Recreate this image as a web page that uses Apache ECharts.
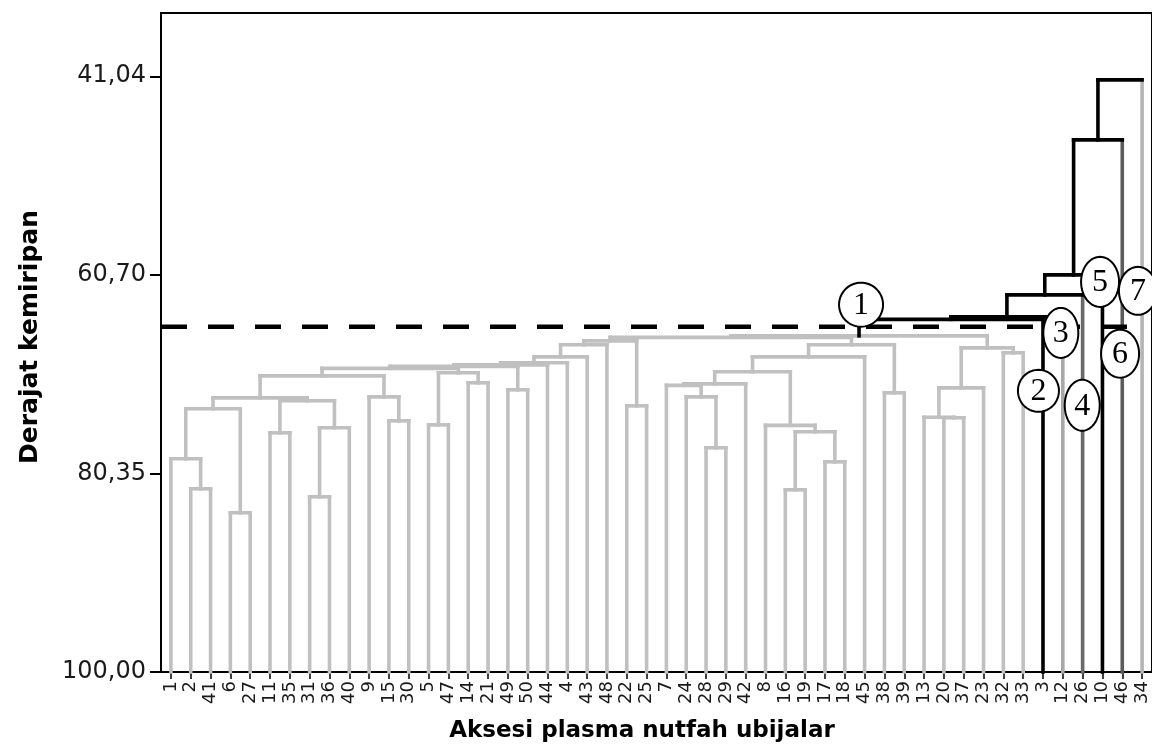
<!DOCTYPE html>
<html>
<head>
<meta charset="utf-8">
<script src="https://cdn.jsdelivr.net/npm/echarts@6/dist/echarts.min.js"></script>
<style>
  html, body { margin: 0; padding: 0; background: #ffffff; }
  #chart { width: 1152px; height: 744px; }
</style>
</head>
<body>
<div id="chart"></div>
<script>
// ---------------- DATA ----------------
// leaf order along the x axis (accession numbers)
const leaves = [1,2,41,6,27,11,35,31,36,40,9,15,30,5,47,14,21,49,50,44,4,43,48,22,25,7,24,28,29,42,8,16,19,17,18,45,38,39,13,20,37,23,32,33,3,12,26,10,46,34];

// merges: [childA, childB, similarity]; numbers = leaf accession, '#k' = merge k
const merges = [
  [6, 27, 84.24],      // 0
  [2, 41, 81.87],      // 1
  [1, '#1', 78.90],    // 2
  ['#2', '#0', 73.95], // 3
  [11, 35, 76.33],     // 4
  [31, 36, 82.66],     // 5
  ['#5', 40, 75.83],   // 6
  ['#4', '#6', 73.16], // 7
  ['#3', '#7', 72.87], // 8
  [15, 30, 75.14],     // 9
  [9, '#9', 72.77],    // 10
  ['#8', '#10', 70.69],// 11
  [5, 47, 75.54],      // 12
  [14, 21, 71.38],     // 13
  ['#12', '#13', 70.39],// 14
  ['#11', '#14', 69.95],// 15
  [49, 50, 72.07],     // 16
  ['#15', '#16', 69.75],// 17
  ['#17', 44, 69.60],  // 18
  ['#18', 4, 69.40],   // 19
  ['#19', 43, 68.81],  // 20
  ['#20', 48, 67.62],  // 21
  [22, 25, 73.66],     // 22
  ['#21', '#22', 67.23],// 23
  [28, 29, 77.81],     // 24
  [24, '#24', 72.77],  // 25
  [7, '#25', 71.63],   // 26
  ['#26', 42, 71.48],  // 27
  [16, 19, 81.97],     // 28
  [17, 18, 79.20],     // 29
  ['#28', '#29', 76.23],// 30
  [8, '#30', 75.59],   // 31
  ['#27', '#31', 70.29],// 32
  ['#32', 45, 68.81],  // 33
  [38, 39, 72.37],     // 34
  ['#33', '#34', 67.62],// 35
  ['#23', '#35', 66.88],// 36
  [20, 37, 74.84],     // 37
  [13, '#37', 74.79],  // 38
  ['#38', 23, 71.88],  // 39
  [32, 33, 68.41],     // 40
  ['#39', '#40', 67.92],// 41
  ['#36', '#41', 66.73],// 42
  ['#42', 3, 65.10],   // 43
  ['#43', 12, 64.85],  // 44
  ['#44', 26, 62.68],  // 45
  ['#45', 10, 60.70],  // 46
  ['#46', 46, 47.34],  // 47
  ['#47', 34, 41.40]   // 48
];

const yTicks = [41.04, 60.70, 80.35, 100.00];
const cutLevel = 65.84;
// cluster markers: [label, position along leaf axis (leaf index units), similarity]
const clusterMarks = [
  ['1', 34.82, 63.65],
  ['2', 43.77, 72.17],
  ['3', 44.90, 66.44],
  ['4', 45.98, 73.60],
  ['5', 46.88, 61.39],
  ['6', 47.89, 68.50],
  ['7', 48.79, 62.28]
];

const yTitle = 'Derajat kemiripan';
const xTitle = 'Aksesi plasma nutfah ubijalar';

// ---------------- STYLE ----------------
const GRAY = '#c0c0c0';
const leafColors = {3: '#000000', 12: '#a8a8a8', 26: '#6a6a6a', 10: '#000000', 46: '#5c5c5c', 34: '#b4b4b4'};
const markSizes = [[44,44],[41,42],[35,50],[35,51],[38,50],[38,48],[38,48]];
const FONT = 'DejaVu Sans, Verdana, sans-serif';

// ---------------- BUILD ----------------
const leafPos = {};
leaves.forEach((id, i) => { leafPos[id] = i; });
const nodeX = [];
const segs = [];
function ref(c) {
  if (typeof c === 'number') return { x: leafPos[c], h: 100, leaf: c };
  const k = +c.slice(1);
  return { x: nodeX[k], h: merges[k][2], leaf: null };
}
merges.forEach((m, k) => {
  const a = ref(m[0]), b = ref(m[1]), h = m[2];
  nodeX[k] = (a.x + b.x) / 2;
  const above = h < cutLevel;
  const bracketColor = above ? '#000000' : GRAY;
  function legColor(c) {
    if (c.leaf !== null) return above ? (leafColors[c.leaf] || GRAY) : GRAY;
    return above ? '#000000' : GRAY;
  }
  segs.push({ xa: a.x, xb: b.x, h: h, ha: a.h, hb: b.h, cb: bracketColor, ca: legColor(a), cc: legColor(b) });
});

const chart = echarts.init(document.getElementById('chart'), null, { renderer: 'canvas' });
const LW = 3.6;

function lineEl(p1, p2, color) {
  return { type: 'line', shape: { x1: p1[0], y1: p1[1], x2: p2[0], y2: p2[1] },
           style: { stroke: color, lineWidth: LW, lineCap: 'square' } };
}

const option = {
  backgroundColor: '#ffffff',
  animation: false,
  grid: { left: 161, right: -4, top: 13, bottom: 72, show: true, borderColor: '#000', borderWidth: 2, backgroundColor: 'transparent' },
  xAxis: {
    type: 'value', min: -0.5, max: 49.5,
    axisLine: { show: true, onZero: false, lineStyle: { color: '#000', width: 2 } },
    axisTick: { show: true, customValues: leaves.map((_, i) => i), length: 7, lineStyle: { color: '#000', width: 1.5 } },
    axisLabel: { show: true, customValues: leaves.map((_, i) => i), rotate: 90, margin: 9,
                 formatter: v => String(leaves[Math.round(v)]), fontSize: 18, color: '#1a1a1a', fontFamily: FONT },
    splitLine: { show: false }
  },
  yAxis: {
    type: 'value', inverse: true, min: 34.78, max: 100,
    axisLine: { show: true, onZero: false, lineStyle: { color: '#000', width: 2 } },
    axisTick: { show: true, customValues: yTicks, length: 11, lineStyle: { color: '#000', width: 2 } },
    axisLabel: { show: true, customValues: yTicks, margin: 15,
                 formatter: v => v.toFixed(2).replace('.', ','), fontSize: 24, color: '#1a1a1a', fontFamily: FONT },
    splitLine: { show: false }
  },
  graphic: [
    { type: 'text', x: 30, y: 337, rotation: Math.PI / 2, z: 10,
      style: { text: yTitle, font: 'bold 25px ' + FONT, fill: '#000', align: 'center', verticalAlign: 'middle' } },
    { type: 'text', x: 642, y: 731, z: 10,
      style: { text: xTitle, font: 'bold 23px ' + FONT, fill: '#000', align: 'center', verticalAlign: 'middle' } }
  ],
  series: [
    {
      type: 'custom', z: 2, silent: true, clip: false,
      data: segs.map(s => [s.xa, s.xb, s.h]),
      encode: { x: [0, 1], y: 2 },
      renderItem: function (params, api) {
        const s = segs[params.dataIndex];
        const a1 = api.coord([s.xa, s.h]), a2 = api.coord([s.xa, s.ha]);
        const b1 = api.coord([s.xb, s.h]), b2 = api.coord([s.xb, s.hb]);
        return { type: 'group', children: [
          lineEl(a1, a2, s.ca),
          lineEl(b1, b2, s.cc),
          lineEl(a1, b1, s.cb)
        ] };
      }
    },
    {
      type: 'line', z: 3, silent: true, symbol: 'none',
      data: [[-0.5, cutLevel], [48.7, cutLevel]],
      lineStyle: { color: '#000', width: 4.5, type: [26, 21] }
    },
    {
      type: 'custom', z: 4, silent: true, clip: false,
      data: clusterMarks.map(m => [m[1], m[2]]),
      encode: { x: 0, y: 1 },
      renderItem: function (params, api) {
        const m = clusterMarks[params.dataIndex];
        const c = api.coord([m[1], m[2]]);
        const sz = markSizes[params.dataIndex];
        const rx = sz[0] / 2, ry = sz[1] / 2;
        const pts = [];
        for (let t = 0; t < 72; t++) {
          const a = t / 72 * Math.PI * 2;
          pts.push([c[0] + rx * Math.cos(a), c[1] + ry * Math.sin(a)]);
        }
        return { type: 'group', children: [
          { type: 'polygon', shape: { points: pts }, style: { fill: '#fff', stroke: '#000', lineWidth: 2 } },
          { type: 'text', x: c[0], y: c[1] + 1,
            style: { text: m[0], font: '32px "Liberation Serif", "Times New Roman", serif', fill: '#000', align: 'center', verticalAlign: 'middle' } }
        ] };
      }
    }
  ]
};
chart.setOption(option);
</script>
</body>
</html>
